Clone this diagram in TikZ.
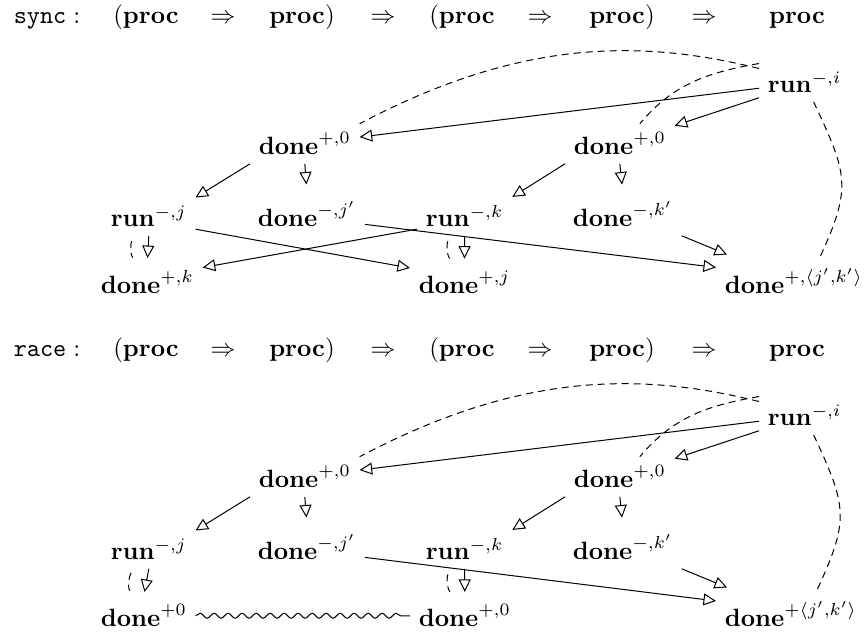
\documentclass[tikz,border=0pt]{standalone}
\usetikzlibrary{arrows.meta, decorations.pathmorphing}
\newcommand{\grun}{\mathbf{run}}
\newcommand{\gdone}{\mathbf{done}}
\newcommand{\gproc}{\mathbf{proc}}
\tikzset{
  gn/.style={anchor=base west},
  hd/.style={anchor=base, inner sep=1pt},
  arr/.style={-{Triangle[open, length=5pt, width=4.8pt]}},
  dsh/.style={dash pattern=on 2.8pt off 2pt},
  wave/.style={decorate, decoration={snake, amplitude=1pt, segment length=5.6pt, post length=2pt}},
}
\begin{document}
\begin{tikzpicture}[x=0.4pt, y=0.4pt]
  \useasboundingbox (0,0) rectangle (868,639);
  \foreach \p/\dy/\lbl/\ba/\bb/\bc in {s/0/sync/{+,k}/{+,j}/{+,\langle j',k'\rangle}, r/333/race/{+0}/{+,0}/{+\langle j',k'\rangle}} {
    \begin{scope}[shift={(0,-\dy)}]
      % type
      \node[hd] (lb\p) at (47,615) {$\mathtt{\lbl}:$};
      \foreach \x/\tx [count=\i] in {146/{$(\gproc$}, 223/{$\Rightarrow$}, 302/{$\gproc)$}, 383/{$\Rightarrow$}, 462/{$(\gproc$}, 540/{$\Rightarrow$}, 622/{$\gproc)$}, 704/{$\Rightarrow$}, 797/{$\gproc$}}
        \node[hd] (h\p\i) at (\x,615) {\tx};
      % moves
      \node[gn] (runi\p) at (759,546) {$\grun^{-,i}$};
      \node[gn] (dzl\p) at (250,484) {$\gdone^{+,0}$};
      \node[gn] (dzr\p) at (565,484) {$\gdone^{+,0}$};
      \node[gn] (runj\p) at (102,412) {$\grun^{-,j}$};
      \node[gn] (dnj\p) at (249,412) {$\gdone^{-,j'}$};
      \node[gn] (runk\p) at (417,412) {$\grun^{-,k}$};
      \node[gn] (dnk\p) at (564,412) {$\gdone^{-,k'}$};
      \node[gn] (ba\p) at (92,345) {$\gdone^{\ba}$};
      \node[gn] (bb\p) at (410,345) {$\gdone^{\bb}$};
      \node[gn] (bc\p) at (716,345) {$\gdone^{\bc}$};
      % pointers
      \draw[arr] (runi\p) -- (dzl\p);
      \draw[arr] (runi\p) -- (dzr\p);
      \draw[arr] (dzl\p.south west) -- (runj\p.north east);
      \draw[arr] (dzr\p.south west) -- (runk\p.north east);
      \draw[arr, shorten >=3.2pt] (dzl\p.south) -- (dnj\p.north);
      \draw[arr, shorten >=3.2pt] (dzr\p.south) -- (dnk\p.north);
      \draw[arr] (dnj\p.-10) -- (bc\p.170);
      \draw[arr] (dnk\p.south east) -- ([shift={(11,5)}]bc\p.north west);
      \draw[arr, shorten >=1.5pt] (runj\p.south) -- (ba\p.north);
      \draw[arr, shorten >=1.5pt] (runk\p.south) -- (bb\p.north);
      % causality
      \draw[dsh, shorten <=3.5pt, shorten >=2.5pt] ([xshift=-4pt]runj\p.south) to[bend right=50] ([xshift=-4pt]ba\p.north);
      \draw[dsh, shorten <=3.5pt, shorten >=2.5pt] ([xshift=-4pt]runk\p.south) to[bend right=50] ([xshift=-4pt]bb\p.north);
      \draw[dsh] ([yshift=-2pt]runi\p.north west) .. controls (640,600) and (520,600) .. (dzl\p.north east);
      \draw[dsh] (runi\p.north west) to[out=190, in=50] ([xshift=8pt]dzr\p.north);
      \draw[dsh] (runi\p.-65) to[out=-65, in=65, looseness=1.3] ([xshift=10pt]bc\p.north);
    \end{scope}
  }
  % sync only
  \draw[arr] (runjs.-15) -- (bbs.165);
  \draw[arr] (runks.195) -- (bas.15);
  % race only
  \draw[wave] (bar.east) -- (bbr.west);
\end{tikzpicture}
\end{document}
